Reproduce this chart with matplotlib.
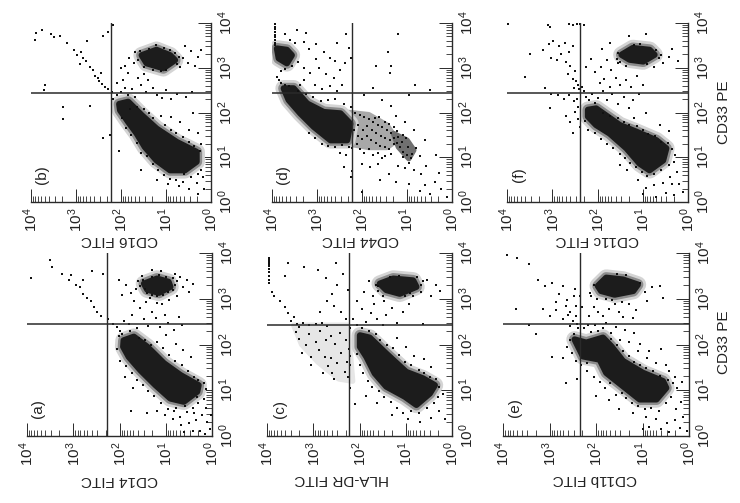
import numpy as np
import matplotlib
matplotlib.use('Agg')
import matplotlib.pyplot as plt
from matplotlib.ticker import LogLocator, NullFormatter, FixedLocator, FixedFormatter

plt.rcParams['font.family'] = ['Liberation Sans', 'DejaVu Sans']
plt.rcParams['mathtext.fontset'] = 'custom'
plt.rcParams['mathtext.rm'] = 'Liberation Sans'

W, H = 740, 503
decades = [1, 10, 100, 1000, 10000]
decade_labels = [r'$\mathrm{10^{0}}$', r'$\mathrm{10^{1}}$', r'$\mathrm{10^{2}}$', r'$\mathrm{10^{3}}$', r'$\mathrm{10^{4}}$']
x_label_pe = 'CD33 PE'

# values are log10(FITC), log10(PE)
a_core = [(1.91,2.09),(1.69,2.17),(1.40,1.95),(1.04,1.59),(0.68,1.33),(0.29,1.11),(0.32,0.97),(0.61,0.75),(0.90,0.82),(1.22,1.11),(1.55,1.44),(1.80,1.73),(1.92,1.95)]
a_blob = [(1.47,3.33),(1.19,3.44),(0.94,3.37),(0.90,3.26),(1.15,3.13),(1.40,3.20)]
a_dots = [(2.55,2.82),(2.48,2.71),(2.40,2.62),(2.62,2.95),(2.70,3.02),(2.78,3.11),(2.85,3.25),(2.95,3.31),(3.10,3.42),(3.25,3.55),(3.45,3.70),(3.92,3.45),(3.50,3.85),(3.05,3.52),(2.80,3.42),(2.60,3.60),(2.35,3.55),(2.25,2.55),
(2.15,2.45),(2.05,2.38),(1.98,2.30),(1.90,2.52),(1.80,2.44),(1.72,2.65),(1.62,2.35),(1.55,2.80),(1.48,2.55),(1.38,2.40),(1.30,2.72),(1.22,2.58),(1.12,2.38),(1.02,2.65),(0.95,2.48),(0.82,2.32),(0.72,2.60),(0.65,2.42),(1.85,3.30),(1.95,3.08),(2.02,3.42),(1.75,3.12),(1.68,2.95),(1.60,3.38),(1.42,2.92),(1.35,3.02),(1.20,2.90),(1.08,2.88),(0.92,2.98),(0.75,3.05),(0.62,3.25),(0.55,3.40),(0.50,3.15),(0.42,3.32),(0.70,3.48),(0.80,3.55),(1.10,3.60),(1.30,3.62),(1.52,3.50),
(2.02,2.18),(1.95,2.22),(1.78,2.30),(1.58,2.15),(1.45,2.10),(1.32,1.98),(1.18,2.05),(1.05,1.92),(0.92,1.78),(0.80,1.65),(0.65,1.55),(0.52,1.42),(0.40,1.30),(0.30,1.22),(0.18,1.15),(0.12,1.02),(1.00,2.20),(0.78,2.02),(0.62,1.88),(0.45,1.72),
(2.05,1.90),(1.98,1.65),(1.85,1.52),(1.72,1.38),(1.62,1.22),(1.50,1.12),(1.38,0.98),(1.25,0.88),(1.10,0.72),(0.95,0.60),(0.82,0.55),(0.70,0.42),(0.55,0.52),(0.42,0.62),(0.30,0.72),(0.18,0.80),(0.12,0.62),(0.22,0.45),(0.35,0.35),(0.50,0.28),(0.68,0.25),(0.85,0.38),(1.02,0.45),(1.18,0.55),(1.40,0.50),(0.10,0.30),(0.05,0.15),(0.25,0.12),(0.42,0.10),(0.60,0.08),(0.15,0.05),(0.03,0.45),(1.70,1.05),(1.88,1.30),(1.75,0.55),(0.32,0.85),(0.40,0.50),(0.58,0.65),(0.78,0.62),
(1.65,3.22),(1.45,3.22),(1.55,3.28),(1.50,3.42),(1.40,3.12),(1.30,3.08),(1.20,3.05),(1.05,3.08),(0.95,3.15),(0.85,3.20),(0.80,3.30),(0.75,3.38),(0.85,3.45),(1.00,3.48),(1.15,3.52),(1.30,3.48)]

b_core = [(2.04,2.19),(1.84,2.24),(1.54,1.94),(1.21,1.64),(0.76,1.34),(0.32,1.12),(0.32,0.90),(0.58,0.71),(0.91,0.71),(1.21,0.93),(1.47,1.23),(1.65,1.53),(1.84,1.79),(2.02,2.05)]
b_blob = [(1.54,3.28),(1.21,3.40),(0.91,3.28),(0.80,3.17),(1.06,2.99),(1.43,3.10)]
b_dots = [(2.20,2.45),(2.28,2.52),(2.35,2.58),(2.42,2.64),(2.48,2.70),(2.52,2.76),(2.58,2.82),(2.45,2.88),(2.62,2.95),(2.70,3.02),(2.78,3.15),(2.85,3.22),(2.92,3.08),(2.88,3.35),(2.98,3.28),(3.05,3.40),(3.20,3.55),(3.35,3.72),(3.48,3.68),(3.55,3.75),(3.90,3.78),(3.92,3.62),(3.75,3.85),(2.75,3.60),(2.40,3.72),(2.28,3.80),(2.18,3.95),(3.70,2.62),(3.72,2.50),(3.30,2.12),(2.70,2.15),(3.30,1.85),(2.25,1.50),(2.40,1.42),
(2.18,2.30),(2.08,2.38),(2.00,2.46),(1.92,2.55),(1.85,2.40),(1.75,2.52),(1.68,2.35),(1.55,2.62),(1.45,2.45),(1.30,2.55),(1.20,2.40),(1.10,2.32),(1.00,2.50),(0.90,2.30),(0.75,2.42),(0.55,2.35),(0.42,2.45),(1.95,2.72),(1.85,2.88),(1.72,3.10),(1.82,3.22),(1.68,3.35),(1.92,3.05),(2.00,3.00),(2.10,2.65),(1.62,2.78),(1.48,2.85),(1.40,2.72),(0.62,3.22),(0.52,3.10),(0.45,3.38),(0.58,3.48),(0.35,3.05),(0.30,3.25),(0.22,3.40),(0.70,3.02),
(1.80,2.08),(1.65,2.12),(1.50,2.08),(1.38,1.98),(1.28,1.88),(1.12,1.92),(1.02,1.72),(0.90,1.62),(0.78,1.55),(0.62,1.45),(0.50,1.35),(0.38,1.25),(0.25,1.15),(0.90,1.90),(0.70,1.78),(0.50,1.62),(0.30,1.55),(0.40,2.00),(0.22,1.30),
(1.98,1.88),(1.90,1.65),(1.78,1.50),(1.65,1.32),(1.55,1.10),(1.42,1.02),(1.30,0.85),(1.18,0.72),(1.05,0.60),(0.92,0.52),(0.78,0.50),(0.62,0.45),(0.45,0.55),(0.30,0.62),(0.22,0.72),(0.18,0.55),(0.32,0.42),(0.50,0.30),(0.72,0.35),(0.95,0.40),(0.15,0.30),(0.28,0.18),(2.05,1.15),(1.55,0.72),(1.20,0.50),(0.60,0.62),
(1.62,3.18),(1.58,3.38),(1.48,3.02),(1.38,3.42),(1.30,2.95),(1.12,2.92),(1.00,2.95),(1.05,3.45),(0.92,3.40),(0.80,3.32),(0.72,3.25),(0.75,3.08),(1.22,3.50)]

c_core = [(1.99,2.20),(1.78,2.15),(1.42,1.80),(0.99,1.40),(0.63,1.26),(0.37,1.11),(0.48,0.93),(0.77,0.68),(1.02,0.86),(1.42,1.08),(1.67,1.37),(1.85,1.73),(1.99,1.95)]
c_blob = [(1.56,3.33),(1.27,3.44),(0.84,3.40),(0.77,3.26),(1.13,3.11),(1.42,3.19)]
c_haze = [(3.42,2.42),(2.25,2.42),(2.15,1.20),(2.45,1.25),(2.90,1.62),(3.25,2.00)]
c_dots = [(3.95,3.88),(3.95,3.80),(3.95,3.72),(3.95,3.66),(3.95,3.58),(3.95,3.50),(3.95,3.42),(3.95,3.34),(3.95,3.84),(3.95,3.76),(3.90,3.15),(3.85,3.05),(3.72,2.95),(3.62,2.82),(3.55,2.68),(3.48,2.52),(3.42,2.60),(3.35,2.45),(3.30,2.38),(3.22,2.48),(3.10,2.42),(2.95,2.44),(2.82,2.46),(2.70,2.40),(3.38,2.28),(3.30,2.12),(3.15,2.00),(3.25,1.82),(3.05,1.72),(3.10,2.22),(2.95,2.05),(2.88,1.88),(2.75,1.72),(2.68,1.52),(2.60,1.38),(2.55,1.25),(2.48,1.60),(2.40,1.82),(2.52,2.02),(2.62,2.18),(2.42,2.25),(2.30,2.10),(2.22,1.90),(2.28,1.62),(2.32,1.40),(2.25,1.28),(2.20,1.05),(2.20,1.75),(2.20,1.55),(2.20,2.35),(2.15,2.55),(2.30,2.55),(2.40,2.70),(2.55,2.85),(2.70,2.95),(2.85,2.72),(2.60,3.10),(2.48,3.30),(2.72,3.45),(2.90,3.62),(3.20,3.70),(3.55,3.78),(3.62,3.50),(2.25,3.20),(2.35,3.55),(2.50,3.78),(3.05,1.55),(2.80,1.38),(2.62,1.70),(2.72,2.10),(2.85,2.30),
(2.05,2.42),(1.95,2.35),(1.85,2.50),(1.75,2.68),(1.62,2.55),(1.50,2.42),(1.42,2.65),(1.30,2.80),(1.20,2.48),(1.95,2.78),(2.05,2.95),(1.90,3.15),(1.80,3.38),(1.70,3.05),(1.60,3.28),(1.68,2.88),(1.48,2.95),(1.05,2.70),(0.92,2.88),(0.68,3.15),(0.55,3.40),(0.45,3.05),(0.35,3.30),(0.62,2.45),(0.85,3.05),(0.25,3.18),
(1.80,2.30),(1.65,2.22),(1.55,2.10),(1.40,2.00),(1.28,1.92),(1.15,1.78),(1.02,1.62),(0.88,1.55),(0.72,1.45),(0.60,1.38),(0.48,1.28),(0.35,1.25),(0.28,1.08),(1.20,2.15),(1.00,1.95),(0.82,1.75),(0.60,1.68),(0.45,1.50),
(2.05,1.80),(2.00,1.55),(1.92,1.38),(1.82,1.20),(1.72,1.08),(1.58,0.98),(1.48,0.85),(1.32,0.75),(1.18,0.62),(1.05,0.50),(0.88,0.55),(0.72,0.50),(0.55,0.62),(0.40,0.72),(0.30,0.85),(0.20,0.92),(1.62,0.72),(1.30,0.45),(0.95,0.38),(0.70,0.30),(0.45,0.40),(0.28,0.55),(0.15,0.38),(2.10,0.70),(1.85,0.88),
(1.65,3.30),(1.60,3.18),(1.50,3.05),(1.35,3.48),(1.15,3.50),(1.02,3.05),(0.90,3.12),(0.75,3.48),(0.68,3.30),(0.62,3.38)]

d_core = [(3.74,2.54),(3.52,2.54),(3.22,2.20),(2.85,2.01),(2.48,1.98),(2.26,1.75),(2.33,1.38),(2.70,1.38),(3.07,1.68),(3.37,1.98),(3.63,2.28)]
d_blob = [(3.89,3.43),(3.67,3.40),(3.56,3.28),(3.67,3.10),(3.85,3.21)]
d_haze = [(2.30,2.00),(1.85,1.95),(1.45,1.72),(1.22,1.38),(1.45,1.22),(1.85,1.22),(2.30,1.30)]
d_tail = [(1.30,1.53),(1.00,1.38),(0.85,1.16),(0.96,0.97),(1.19,1.23)]
d_dots = [(3.93,3.98),(3.93,3.92),(3.93,3.86),(3.93,3.80),(3.93,3.74),(3.93,3.68),(3.93,3.62),(3.93,3.56),(3.93,3.50),(3.90,2.80),(3.85,2.72),(3.80,2.66),(3.72,2.62),(3.62,2.60),(3.80,2.92),(3.72,2.98),(3.55,3.05),(3.42,3.12),(3.30,3.00),(3.15,2.88),(3.28,2.72),(3.05,2.62),(2.88,2.52),(2.72,2.60),(2.55,2.48),(2.45,2.62),(3.38,2.62),(3.42,2.48),(3.25,2.42),(3.08,2.35),(2.92,2.25),(2.75,2.28),(2.60,2.30),(2.40,2.20),(2.25,2.12),(2.62,2.78),(2.80,2.85),(2.95,3.00),(2.50,2.95),(2.38,3.10),(2.25,3.22),(3.02,3.20),(3.18,3.42),(3.30,3.58),(3.48,3.55),(3.60,3.62),(3.72,3.75),(3.45,3.85),(3.25,3.78),(3.02,3.52),(2.85,3.35),(2.72,3.22),(2.55,3.55),(2.35,3.75),(2.30,3.45),(2.60,3.15),
(2.15,2.00),(2.05,1.95),(1.95,1.90),(1.85,1.85),(1.75,1.78),(1.65,1.72),(1.55,1.68),(1.45,1.60),(1.35,1.55),(2.08,1.72),(1.98,1.62),(1.88,1.70),(1.78,1.60),(1.68,1.55),(1.58,1.48),(1.48,1.42),(1.38,1.38),(1.28,1.30),(2.18,1.60),(2.10,1.48),(2.00,1.40),(1.90,1.48),(1.80,1.38),(1.70,1.32),(1.60,1.25),(1.50,1.22),(1.40,1.18),(2.12,1.30),(2.22,1.20),(2.05,1.18),(1.95,1.10),(1.85,1.18),(1.75,1.05),(1.65,1.10),(1.55,0.98),(1.72,1.88),(1.62,1.90),(1.50,1.78),(1.40,1.75),(1.30,1.68),(1.20,1.45),(1.12,1.35),(1.10,1.50),(1.02,1.42),(1.22,1.58),(2.30,1.22),(2.45,1.28),(2.60,1.22),(2.75,1.25),(2.90,1.30),(3.05,1.42),(3.18,1.55),(2.50,1.10),(2.35,1.05),
(1.28,1.42),(1.22,1.32),(1.15,1.22),(1.08,1.12),(1.00,1.05),(0.92,0.98),(0.88,1.08),(0.98,1.22),(1.10,1.00),(0.95,0.88),(0.80,1.20),(0.72,1.02),(1.35,1.08),(1.50,1.02),(1.65,0.85),(1.82,0.78),(2.00,0.85),(2.22,0.70),(2.40,0.78),(1.20,0.80),(1.05,0.75),(0.85,0.72),(0.70,0.62),(0.58,0.80),(1.40,0.62),(1.60,0.50),(1.25,0.45),(0.95,0.40),(0.60,0.38),(0.38,0.45),(0.25,0.28),(0.50,0.18),(0.12,0.12),(0.72,0.25),(0.30,0.65),(2.25,0.55),(2.00,0.22),
(1.95,2.40),(1.75,2.55),(1.55,2.28),(1.35,2.15),(1.25,1.92),(1.05,1.78),(0.85,1.60),(0.60,1.38),(0.35,1.05),(1.38,2.88),(1.35,3.05),(1.42,3.35),(0.82,2.62),(0.50,2.50),(0.95,2.40),(1.70,3.05),(1.20,3.75)]

e_core = [(2.46,2.11),(2.21,2.04),(1.85,2.15),(1.67,1.96),(1.42,1.64),(0.99,1.38),(0.56,1.20),(0.49,1.05),(0.70,0.80),(1.06,0.80),(1.42,1.09),(1.78,1.38),(1.92,1.67),(2.28,1.74)]
e_blob = [(1.96,3.28),(1.78,3.46),(1.42,3.42),(1.10,3.31),(1.20,3.17),(1.60,3.09),(1.89,3.17)]
e_dots = [(3.92,3.95),(3.70,3.88),(3.45,3.75),(3.25,3.40),(3.10,3.28),(2.95,3.35),(2.80,3.10),(2.72,3.28),(2.62,2.98),(2.55,2.72),(2.48,3.05),(2.42,2.62),(2.72,2.55),(2.60,2.65),(2.50,2.52),(2.85,2.75),(3.00,2.62),(3.15,2.78),(3.72,2.78),(3.45,2.42),(3.28,2.22),(2.40,2.45),(2.38,2.35),(2.48,2.22),(2.55,2.10),(2.62,1.95),(2.52,1.82),(2.42,1.65),(2.32,1.55),(2.20,1.60),(2.70,1.70),(2.95,1.72),(2.40,1.25),(2.65,1.15),(2.45,3.22),(2.85,2.92),(2.65,2.85),(2.35,3.05),(2.30,2.82),(2.42,2.85),(2.55,2.40),
(2.25,2.35),(2.18,2.42),(2.10,2.28),(2.02,2.42),(1.95,2.30),(1.85,2.35),(1.78,2.48),(1.68,2.25),(1.58,2.38),(1.48,2.10),(1.38,2.32),(1.28,2.05),(1.18,2.25),(1.05,2.02),(1.95,2.70),(1.85,2.62),(1.72,2.78),(1.60,2.88),(1.50,2.70),(1.42,2.60),(1.30,2.88),(1.20,2.58),(1.15,2.75),(2.15,2.62),(2.05,2.82),(2.10,3.05),(1.98,3.00),(1.78,3.00),(1.65,2.98),(1.45,2.92),(1.05,3.35),(0.95,3.15),(0.80,3.25),(0.62,3.28),(0.55,3.02),(0.90,2.95),(2.05,3.30),(2.12,3.12),(1.55,3.55),(1.35,3.52),
(1.68,2.12),(1.55,1.98),(1.42,1.85),(1.30,1.75),(1.18,1.62),(1.05,1.55),(0.92,1.48),(0.78,1.42),(0.62,1.32),(0.45,1.22),(0.35,1.15),(0.25,1.05),(1.10,1.85),(0.90,1.70),(0.70,1.60),(0.50,1.55),(0.42,1.42),(0.30,1.30),(0.85,1.85),(0.60,1.90),(0.15,1.18),
(2.20,1.42),(2.05,1.30),(1.92,1.18),(1.80,1.05),(1.70,1.15),(1.58,0.90),(1.45,0.95),(1.35,0.82),(1.22,0.72),(1.10,0.65),(0.95,0.58),(0.82,0.62),(0.65,0.55),(0.50,0.72),(0.38,0.85),(0.28,0.60),(0.18,0.75),(0.12,0.42),(0.30,0.35),(0.48,0.28),(0.70,0.38),(0.92,0.42),(1.20,0.50),(0.20,0.18),(0.05,0.10),(0.42,0.08),(1.50,0.60),(1.72,0.78),(2.00,0.88),(0.85,0.20),(1.00,0.15),(0.60,0.15)]

f_core = [(2.21,2.06),(2.03,2.09),(1.51,1.72),(1.14,1.57),(0.70,1.38),(0.48,1.20),(0.55,0.93),(0.85,0.71),(1.07,0.86),(1.36,1.20),(1.73,1.53),(2.03,1.72),(2.21,1.91)]
f_blob = [(1.47,3.29),(1.22,3.44),(0.85,3.40),(0.74,3.29),(0.99,3.14),(1.29,3.18)]
f_dots = [(3.98,3.98),(2.62,3.98),(2.55,3.96),(2.45,3.98),(2.38,3.97),(2.30,3.96),(3.10,3.95),(3.05,3.92),(3.20,3.40),(3.08,3.52),(2.98,3.60),(2.85,3.48),(2.72,3.55),(2.62,3.35),(2.55,3.48),(3.02,3.22),(2.90,3.18),(2.80,3.30),(2.70,3.12),(2.60,3.05),(2.50,2.92),(2.65,2.85),(2.55,2.75),(2.48,2.70),(2.42,2.62),(2.40,2.52),(2.35,2.58),(2.30,2.48),(2.52,2.55),(3.50,3.30),(3.60,2.80),(3.15,2.55),(3.02,2.42),(2.88,2.38),(2.75,2.30),(2.62,2.40),(2.52,2.25),(2.42,2.12),(2.50,2.02),(2.42,1.85),(2.60,1.78),(2.38,1.68),(2.55,1.55),(3.05,2.10),(2.45,2.30),(2.70,1.92),
(2.25,2.35),(2.18,2.28),(2.12,2.42),(2.05,2.22),(1.98,2.32),(1.88,2.48),(1.78,2.28),(1.68,2.42),(1.55,2.20),(1.42,2.35),(1.30,2.10),(1.22,2.28),(1.08,2.42),(1.95,2.65),(1.85,2.75),(1.72,2.58),(1.60,2.78),(1.50,2.62),(1.38,2.72),(1.25,2.58),(1.12,2.82),(1.00,2.62),(2.05,2.90),(1.92,3.02),(1.80,3.18),(1.70,2.95),(1.55,3.10),(2.15,3.20),(2.25,3.02),(1.90,3.42),(1.72,3.55),(1.30,3.72),(0.92,3.75),(0.75,3.02),(0.60,3.28),(0.42,3.25),(0.35,3.42),(0.22,3.15),(0.55,3.10),
(1.88,2.00),(1.72,1.92),(1.55,1.88),(1.42,1.78),(1.30,1.72),(1.20,1.88),(1.12,1.70),(1.00,1.62),(0.88,1.52),(0.72,1.48),(0.60,1.35),(0.45,1.32),(0.35,1.18),(0.28,1.05),(0.92,2.00),(0.62,1.72),(0.42,1.58),
(2.28,1.80),(2.22,1.62),(2.05,1.55),(1.92,1.40),(1.78,1.30),(1.65,1.20),(1.50,1.08),(1.40,0.98),(1.28,0.88),(1.15,0.78),(1.02,0.68),(0.90,0.58),(0.75,0.62),(0.60,0.72),(0.42,0.82),(0.30,0.90),(0.25,0.68),(0.40,0.55),(0.55,0.42),(0.75,0.38),(0.92,0.32),(1.10,0.50),(1.35,0.72),(1.50,0.82),(0.20,0.40),(0.12,0.22),(0.30,0.15),(0.48,0.20),(0.70,0.12),(1.00,0.18),(0.35,0.40),
(1.55,3.32),(1.50,3.12),(1.38,3.05),(1.20,3.50),(1.05,3.52),(0.90,3.08),(0.70,3.40),(0.65,3.22),(1.58,3.20)]

panel_labels = ['(a)', '(b)', '(c)', '(d)', '(e)', '(f)']
fitc_labels = ['CD14 FITC', 'CD16 FITC', 'HLA-DR FITC', 'CD44 FITC', 'CD11b FITC', 'CD11c FITC']
quad_fitc = [2.27, 2.22, 2.22, 2.22, 2.34, 2.38]
quad_pe = [2.45, 2.44, 2.42, 2.44, 2.45, 2.44]
cores = [a_core, b_core, c_core, d_core, e_core, f_core]
blobs = [a_blob, b_blob, c_blob, d_blob, e_blob, f_blob]
dots = [a_dots, b_dots, c_dots, d_dots, e_dots, f_dots]
hazes = {2: [(c_haze, '#e6e6e6')], 3: [(d_haze, '#a8a8a8'), (d_tail, '#707070')]}

# layout in pixels: left, right, top, bottom; then text anchors
frames = [(27,212,253,436),(31,211,23,202),(267,452,253,436),(272,452,23,202),(503,689,253,436),(507,688,23,202)]
letter_xy = [(38,409),(42,175),(280,409),(283,175),(515,408),(519,175)]
fitc_xy = [(119,480),(119,240),(342,479),(360,240),(595,479),(597,240)]
pe_xy = [(724,342),(724,112)]

fig = plt.figure(figsize=(W/100, H/100), dpi=100, facecolor='white')
ink = '#2a2a2a'
strokes = [(12.0, '#d4d4d4'), (8.0, '#8c8c8c'), (4.5, '#1c1c1c')]

def fx(p): return p / W
def fy(p): return 1 - p / H

for i, (l, r, t, b) in enumerate(frames):
    ax = fig.add_axes([fx(l), fy(b), (r-l)/W, (b-t)/H])
    ax.set_xscale('log'); ax.set_yscale('log')
    ax.set_xlim(1e4, 1); ax.set_ylim(1, 1e4)
    ax.patch.set_alpha(0)
    for shape, tone in hazes.get(i, []):
        s = 10.0 ** np.array(shape)
        ax.fill(s[:, 0], s[:, 1], facecolor=tone, edgecolor=tone, linewidth=4, joinstyle='round', zorder=1)
    core = 10.0 ** np.array(cores[i]); blob = 10.0 ** np.array(blobs[i]); pts = 10.0 ** np.array(dots[i])
    for shape in (core, blob):
        for z, (lw, tone) in enumerate(strokes):
            ax.fill(shape[:, 0], shape[:, 1], facecolor=tone, edgecolor=tone, linewidth=lw, joinstyle='round', zorder=2 + 0.1 * z)
    ax.scatter(pts[:, 0], pts[:, 1], s=1.3, c='#111111', marker='s', linewidths=0, zorder=3)
    ax.axvline(10**quad_fitc[i], color=ink, lw=1.0, zorder=4)
    ax.axhline(10**quad_pe[i], color=ink, lw=1.1, zorder=4)
    for s in ('top', 'left'):
        ax.spines[s].set_visible(False)
    for s in ('bottom', 'right'):
        ax.spines[s].set_color(ink); ax.spines[s].set_linewidth(1.0)
    minors = LogLocator(base=10, subs=[2,3,4,5,6,7,8,9], numticks=12)
    ax.xaxis.set_major_locator(FixedLocator(decades)); ax.yaxis.set_major_locator(FixedLocator(decades))
    ax.xaxis.set_major_formatter(FixedFormatter(decade_labels)); ax.yaxis.set_major_formatter(FixedFormatter(decade_labels))
    ax.xaxis.set_minor_locator(minors); ax.yaxis.set_minor_locator(minors)
    ax.xaxis.set_minor_formatter(NullFormatter()); ax.yaxis.set_minor_formatter(NullFormatter())
    ax.yaxis.tick_right()
    ax.tick_params(axis='x', which='major', direction='in', length=9.5, width=0.7, color=ink, pad=4, labelsize=11, labelcolor='#222222', labelrotation=90)
    ax.tick_params(axis='y', which='major', direction='in', length=9.5, width=0.7, color=ink, pad=4, labelsize=11, labelcolor='#222222', labelrotation=90)
    ax.tick_params(which='minor', direction='in', length=4.5, width=0.6, color=ink)
    for lab in ax.get_yticklabels():
        lab.set_va('center')
    for lab in ax.get_xticklabels():
        lab.set_ha('center')
    fig.text(fx(letter_xy[i][0]), fy(letter_xy[i][1]), panel_labels[i], rotation=90, ha='center', va='center', fontsize=11, color='#222222')
    fig.text(fx(fitc_xy[i][0]), fy(fitc_xy[i][1]), fitc_labels[i], rotation=180, ha='center', va='center', fontsize=11, color='#222222')

for x, y in pe_xy:
    fig.text(fx(x), fy(y), x_label_pe, rotation=90, ha='center', va='center', fontsize=11, color='#222222')

fig.savefig('out.png', dpi=100)
